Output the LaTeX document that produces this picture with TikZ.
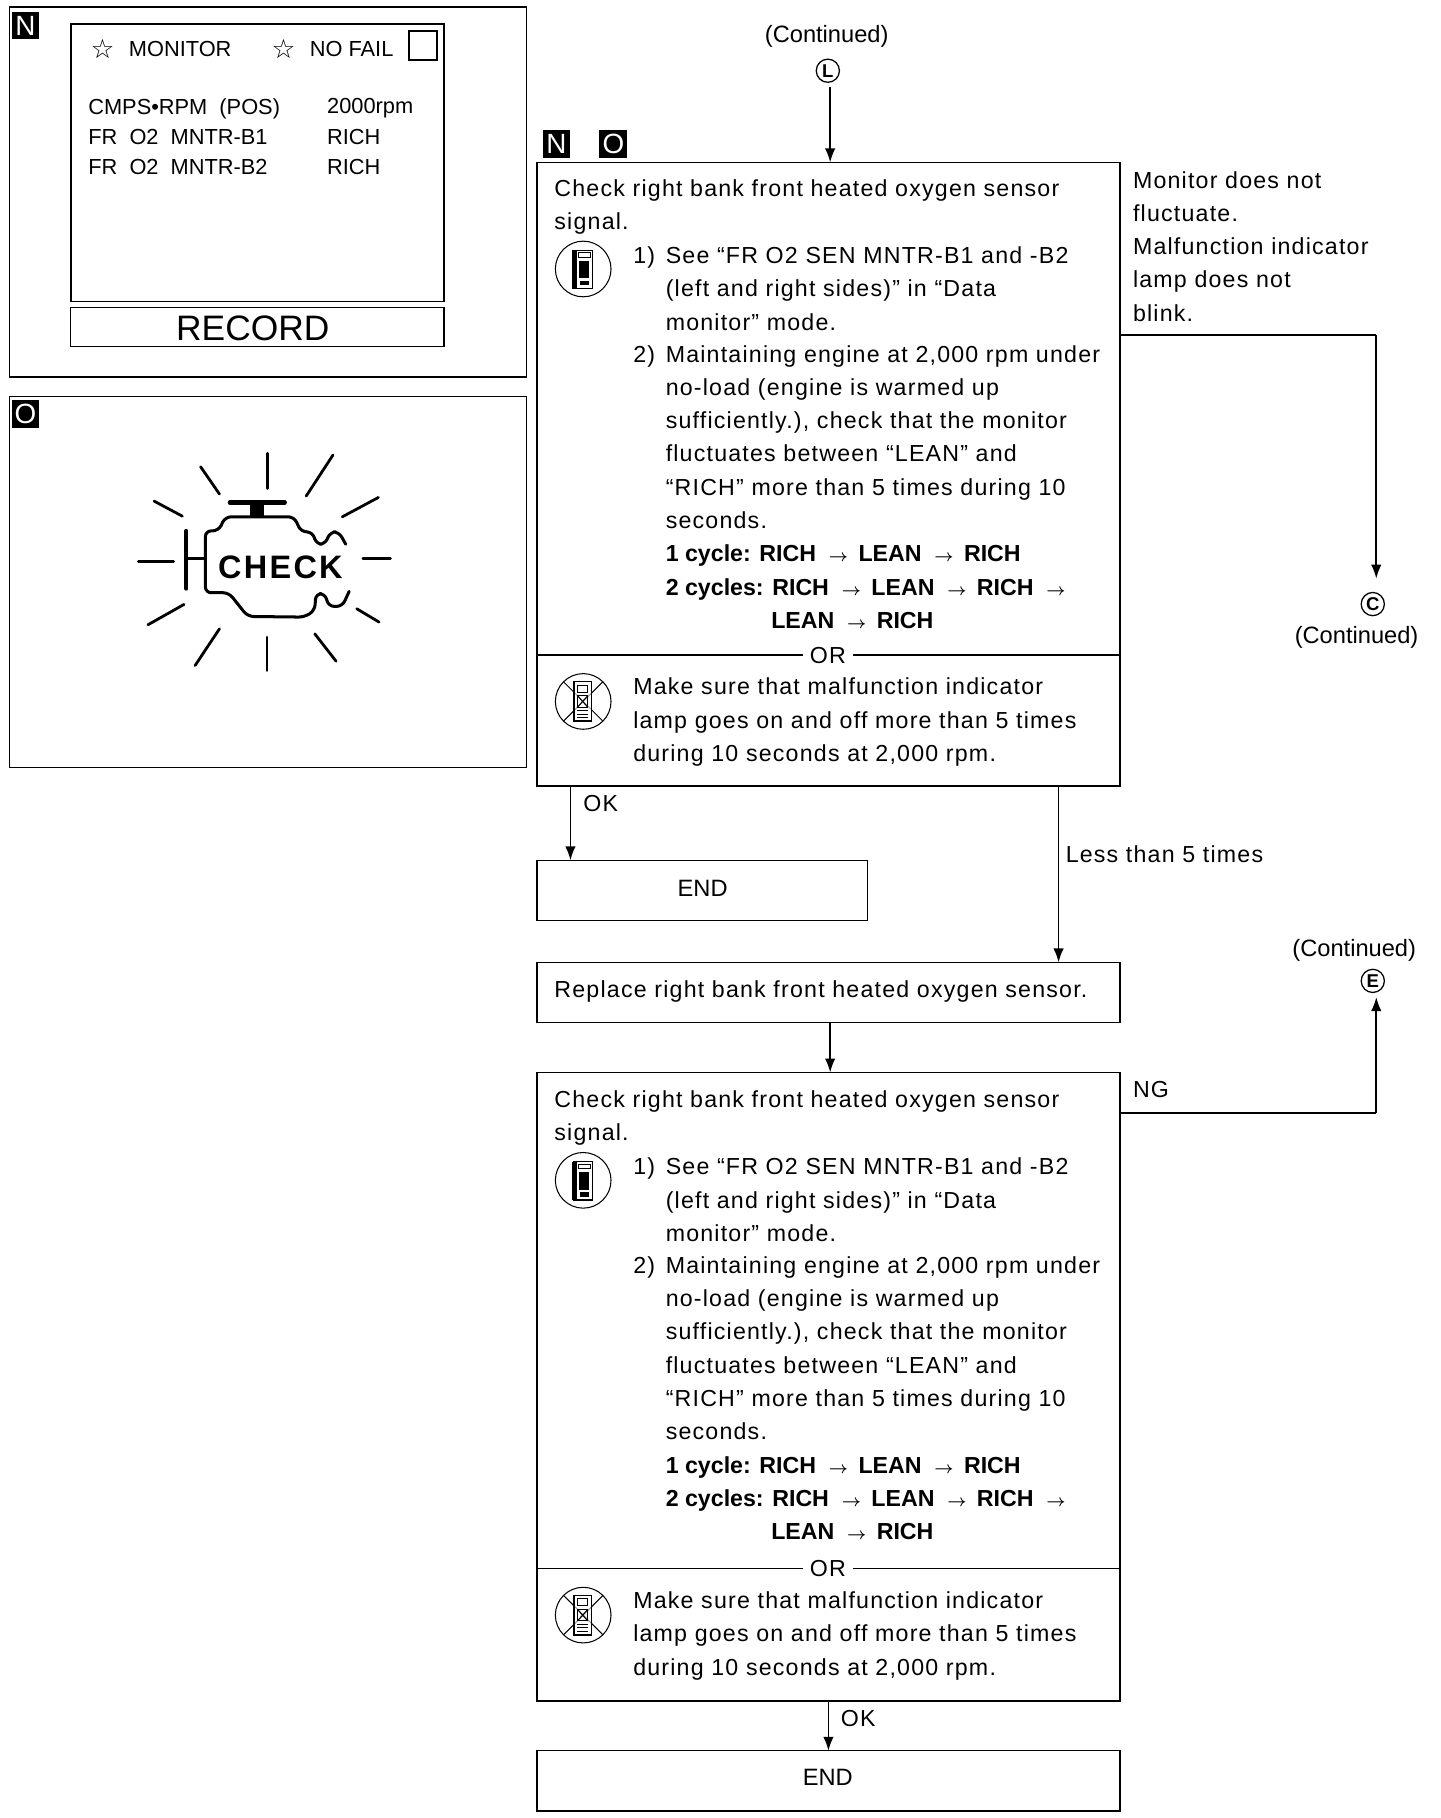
\documentclass[tikz,border=0pt]{standalone}
\usepackage{fontspec}
\usepackage{amsmath,amsbsy}
\setmainfont[LetterSpace=5.2]{Liberation Sans}
\newfontfamily\panelfont{Liberation Sans}
\newfontfamily\symfont{DejaVu Sans}
\usetikzlibrary{arrows.meta}
\tikzset{
  flowbox/.style={draw, line width=1.2pt, inner sep=0pt, outer sep=0pt},
  body/.style={inner sep=0pt, anchor=north west, align=left, font=\fontsize{20}{28.7}\selectfont},
  label/.style={inner sep=0pt, font=\fontsize{20}{24}\selectfont},
  contlabel/.style={inner sep=0pt, font=\panelfont\fontsize{20.4}{24}\selectfont},
  screen/.style={inner sep=0pt, anchor=west, font=\panelfont\fontsize{18.8}{22}\selectfont},
  tagbox/.style={fill=black, text=white, inner sep=0pt, minimum width=24pt, minimum height=24pt, font=\panelfont\fontsize{24}{24}\selectfont},
  circmark/.style={draw, circle, line width=1.1pt, inner sep=0pt, minimum size=20pt, font=\panelfont\bfseries\fontsize{16}{16}\selectfont},
  link/.style={line width=1.4pt, ->},
  tester/.pic={
    \draw[line width=.9pt] (0,0) circle (24);
    \draw[line width=1.1pt] (-8,-16) rectangle (8,17);
    \fill (-10,-16) rectangle (-5,17);
    \draw[line width=.7pt] (-4,-14) rectangle (6,-10);
    \fill (-4,-7) rectangle (5,8);
    \fill (-3,10) rectangle (5,14);
  },
  notester/.pic={
    \draw[line width=.9pt] (0,0) circle (24);
    \draw[line width=.9pt] (-17,-17) -- (17,17) (-17,17) -- (17,-17);
    \draw[line width=1.2pt, fill=white, fill opacity=.6] (-8,-17) rectangle (7,17);
    \draw[line width=.9pt] (-5,-14) rectangle (4,-8);
    \draw[line width=.9pt] (-5,-5) rectangle (4,5);
    \draw[line width=.9pt] (-5,-5) -- (4,5) (-5,5) -- (4,-5);
    \draw[line width=.9pt] (-5,8) -- (4,8) (-5,11) -- (4,11) (-5,14) -- (4,14);
  },
}
\newcommand{\arr}{\hspace*{11pt}$\scriptstyle\boldsymbol{\rightarrow}$\hspace*{9pt}}
\newcommand{\bold}[1]{{\panelfont\bfseries #1}}
\begin{document}
\begin{tikzpicture}[>={Latex[length=12pt,width=9pt]}, x=1pt, y=-1pt]
\useasboundingbox (0,0) rectangle (1242,1568);

% left panels
\node[draw, line width=1.2pt, minimum width=446pt, minimum height=319pt, inner sep=0pt] (panelN) at (231,165.5) {};
\node[draw, line width=1.2pt, minimum width=446pt, minimum height=320pt, inner sep=0pt] (panelO) at (231,502) {};
\node[tagbox] (tagN) at (22,22) {N};
\node[tagbox] (tagO) at (22,357) {O};

\node[draw, line width=1.6pt, minimum width=322pt, minimum height=239pt, inner sep=0pt] (monitor) at (222,140.5) {};
\node[draw, line width=1.2pt, minimum width=322pt, minimum height=34pt, inner sep=0pt] (record) at (222,282) {};
\node[inner sep=0pt, font=\panelfont\fontsize{30.5}{32}\selectfont] (recordtxt) at (218,283) {RECORD};
\node[screen, font=\symfont\fontsize{23}{24}\selectfont] (starA) at (78,42) {☆};
\node[screen] (mon) at (111,42) {MONITOR};
\node[screen, font=\symfont\fontsize{23}{24}\selectfont] (starB) at (234,42) {☆};
\node[screen] (nofail) at (267,42) {NO FAIL};
\node[draw, line width=1.6pt, minimum width=24pt, minimum height=25pt, inner sep=0pt] (failbox) at (365,39.5) {};
\node[screen] (rowA) at (76,93.5) {CMPS•RPM\ \ (POS)};
\node[screen] (valA) at (282,93.5) {2000rpm};
\node[screen] (rowB) at (76,118) {FR\ \ O2\ \ MNTR-B1};
\node[screen] (valB) at (282,118) {RICH};
\node[screen] (rowC) at (76,144) {FR\ \ O2\ \ MNTR-B2};
\node[screen] (valC) at (282,144) {RICH};

% engine lamp
\begin{scope}[x=.2967pt, y=-.2883pt, yshift=-336.2pt, line cap=round]
\foreach \ax/\ay/\bx/\by in {778/190/778/295, 968/195/890/318, 1100/322/995/380, 1055/505/1135/505,
  1037/655/1102/695, 915/730/977/812, 776/740/776/840, 638/715/567/825, 535/642/430/703,
  402/513/505/513, 530/378/448/333, 638/312/583/230}
{
   \draw[line width=2.4pt] (\ax,\ay)--(\bx,\by);
}
\draw[line width=3.6pt] (668,337)--(828,337);
\fill (728,337) rectangle (768,380);
\draw[line width=3.4pt] (542,422)--(542,595);
\draw[line width=2.8pt] (542,505)--(597,505);
\draw[line width=2.6pt, rounded corners=5pt] (1005,462)--(985,425)--(960,425)--(945,462)--(920,462)--(908,425)--(875,425)--(855,380)--(655,380)--(635,422)--(597,422)--(597,607)--(665,607)--(720,678)--(885,680)--(915,660)--(918,610)--(945,610)--(955,648)--(995,648)--(1015,603);
\node[inner sep=0pt, font=\panelfont\bfseries\fontsize{28}{30}\selectfont] (check) at (815,530) {C\kern2pt H\kern2pt E\kern2pt C\kern2pt K};
\end{scope}

% flow boxes
\node[flowbox, minimum width=503pt, minimum height=538pt] (boxa) at (714.5,409) {};
\node[flowbox, minimum width=285pt, minimum height=52pt] (enda) at (605.5,768) {};
\node[flowbox, minimum width=503pt, minimum height=52pt] (repl) at (714.5,856) {};
\node[flowbox, minimum width=503pt, minimum height=542pt] (boxb) at (714.5,1196) {};
\node[flowbox, minimum width=503pt, minimum height=52pt] (endb) at (714.5,1536) {};

\node[contlabel] (endatxt) at (606,766) {END};
\node[contlabel] (endbtxt) at (714,1533) {END};
\node[label, anchor=west] (repltxt) at (478,855) {Replace right bank front heated oxygen sensor.};

\node[tagbox] (tagNa) at (480,124) {N};
\node[tagbox] (tagOa) at (529,124) {O};

\foreach \bk/\off/\ofb in {a/0/0, b/786/788}
{
   \node[body] (intro\bk) at (478,149+\off) {\strut Check right bank front heated oxygen sensor\\signal.};
   \pic at (503,232+\off) {tester};
   \node[body] (numA\bk) at (546,207+\off) {\strut 1)};
   \node[body] (stepA\bk) at (574,207+\off) {\strut See “FR O2 SEN MNTR-B1 and -B2\\(left and right sides)” in “Data\\monitor” mode.};
   \node[body] (numB\bk) at (546,292+\off) {\strut 2)};
   \node[body] (stepB\bk) at (574,292+\off) {\strut Maintaining engine at 2,000 rpm under\\no-load (engine is warmed up\\sufficiently.), check that the monitor\\fluctuates between “LEAN” and\\“RICH” more than 5 times during 10\\seconds.\\\bold{1 cycle: RICH\arr LEAN\arr RICH}\\\bold{2 cycles: RICH\arr LEAN\arr RICH\arr}\\\hspace*{91pt}\bold{LEAN\arr RICH}};
   \coordinate (orc\bk) at (714,565+\ofb);
   \draw[line width=1.2pt] (box\bk.west |- orc\bk)--(box\bk.east |- orc\bk);
   \node[label, fill=white, inner xsep=6pt, inner ysep=0pt] (or\bk) at (orc\bk) {OR};
   \pic at (503,605+\ofb) {notester};
   \node[body] (stepC\bk) at (546,579+\ofb) {\strut Make sure that malfunction indicator\\lamp goes on and off more than 5 times\\during 10 seconds at 2,000 rpm.};
}

% right column
\node[contlabel] (contL) at (713,31) {(Continued)};
\node[circmark] (markL) at (714,61) {L};
\node[body] (nofluct) at (977,142) {\strut Monitor does not\\fluctuate.\\Malfunction indicator\\lamp does not\\blink.};
\node[circmark] (markC) at (1184,521) {C};
\node[contlabel] (contC) at (1170,550) {(Continued)};
\node[contlabel] (contE) at (1168,820) {(Continued)};
\node[circmark] (markE) at (1184,846) {E};
\node[label, anchor=west] (ngtxt) at (977,940) {NG};

\coordinate (turnC) at (1187,289);
\coordinate (turnE) at (1187,960);
\coordinate (tipC) at (1187,499);
\coordinate (tipE) at (1187,860);
\coordinate (downA) at (492,678);
\coordinate (downB) at (913,678);

\draw[link] (716,75)--(716,140);
\draw[line width=1.3pt] (boxa.east |- turnC)--(turnC);
\draw[link] (turnC)--(tipC);
\draw[link] (downA)--(downA |- enda.north);
\node[label, anchor=west] (oktxt) at (503,693) {OK};
\draw[link] (downB)--(downB |- repl.north);
\node[label, anchor=west] (lesstxt) at (919,737) {Less than 5 times};
\draw[link] (716,882)--(716,925);
\draw[line width=1.3pt] (boxb.east |- turnE)--(turnE);
\draw[link] (turnE)--(tipE);
\draw[link] (boxb.south)--(endb.north);
\node[label, anchor=west] (okbtxt) at (725,1482) {OK};
\end{tikzpicture}
\end{document}
